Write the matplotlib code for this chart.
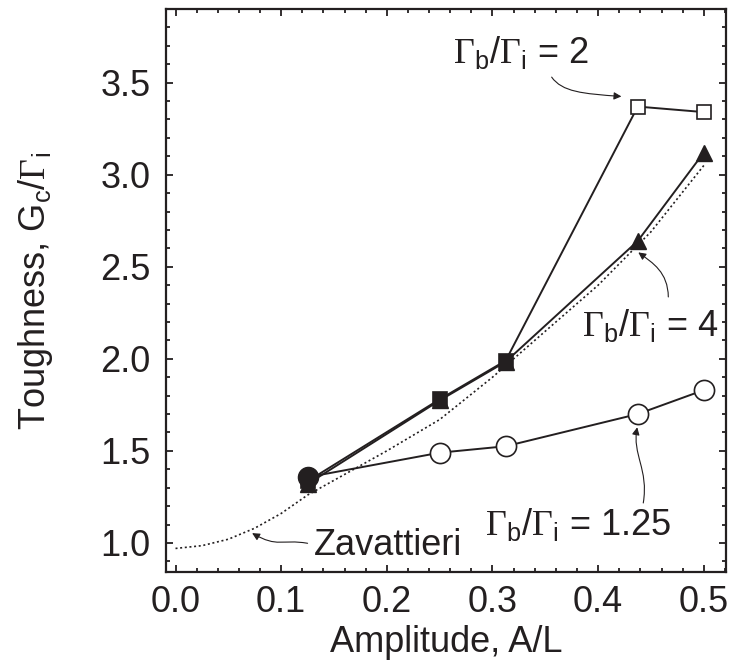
import numpy as np
import matplotlib
matplotlib.use("Agg")
import matplotlib.pyplot as plt
from matplotlib.patches import FancyArrowPatch
from matplotlib.path import Path
from matplotlib.ticker import MultipleLocator

plt.rcParams['font.family'] = ['Liberation Sans', 'DejaVu Sans']
plt.rcParams['mathtext.fontset'] = 'custom'
plt.rcParams['mathtext.rm'] = 'Liberation Serif'
plt.rcParams['mathtext.sf'] = 'Liberation Sans'
plt.rcParams['mathtext.it'] = 'Liberation Sans:italic'

ink = '#231f20'

# amplitude A/L of the simulated interfaces
amp = [0.125, 0.25, 0.3125, 0.4375, 0.5]
# toughness Gc/Gi for each strength ratio
g_125 = [1.357, 1.49, 1.525, 1.70, 1.83]
g_2 = [1.335, 1.78, 1.99, 3.37, 3.34]
g_4 = [1.32, 1.774, 1.984, 2.64, 3.12]
# which square points are filled (crack stays on interface)
sq_filled = [True, True, True, False, False]

# Zavattieri reference curve
zav_x = [0.0, 0.025, 0.05, 0.075, 0.1, 0.125, 0.15, 0.175, 0.2, 0.25, 0.3, 0.35, 0.4, 0.45, 0.5]
zav_y = [0.97, 0.985, 1.02, 1.08, 1.16, 1.26, 1.34, 1.42, 1.50, 1.67, 1.90, 2.15, 2.40, 2.69, 3.05]

fs = 26

fig = plt.figure(figsize=(7.29, 6.64), dpi=100)
ax = fig.add_axes([166/729, 92/664, 560/729, 563/664])

ax.plot(zav_x, zav_y, ls=(0, (1.2, 1.6)), lw=1.2, color=ink, zorder=1)

ax.plot(amp, g_4, '-', color=ink, lw=1.4, marker='^', ms=11, mfc=ink, mec=ink, zorder=2)

ax.plot(amp, g_2, '-', color=ink, lw=1.4, zorder=3)
for x, y, f in zip(amp, g_2, sq_filled):
    ax.plot(x, y, 's', ms=10, mfc=ink if f else 'white', mec=ink, mew=1.2, zorder=4)

ax.plot(amp, g_125, '-', color=ink, lw=1.4, zorder=5)
ax.plot(amp[1:], g_125[1:], 'o', ms=14.5, mfc='white', mec=ink, mew=1.2, zorder=6)
ax.plot(amp[0], g_125[0], 'o', ms=14.5, mfc=ink, mec=ink, zorder=6)

ax.set_xlim(-0.009, 0.521)
ax.set_ylim(0.842, 3.9)
ax.xaxis.set_major_locator(MultipleLocator(0.1))
ax.xaxis.set_minor_locator(MultipleLocator(0.02))
ax.yaxis.set_major_locator(MultipleLocator(0.5))
ax.yaxis.set_minor_locator(MultipleLocator(0.1))
ax.tick_params(which='both', direction='in', top=True, right=True, width=1.3, colors=ink)
ax.tick_params(which='major', length=5, labelsize=fs)
ax.tick_params(which='minor', length=3)
ax.tick_params(axis='x', which='major', pad=9)
ax.tick_params(axis='y', which='major', pad=11)
for s in ax.spines.values():
    s.set_linewidth(1.6)
    s.set_color(ink)

ax.set_xlabel('Amplitude, A/L', fontsize=fs, color=ink, labelpad=4)
ax.set_ylabel(r'Toughness, $\mathsf{G_c}$/$\Gamma_{\mathsf{i}}$', fontsize=fs, color=ink, labelpad=33)

lab = dict(fontsize=fs, color=ink, ha='left', va='baseline')
ax.text(0.263, 3.607, r'$\Gamma_{\mathsf{b}}$/$\Gamma_{\mathsf{i}}$ = 2', **lab)
ax.text(0.385, 2.124, r'$\Gamma_{\mathsf{b}}$/$\Gamma_{\mathsf{i}}$ = 4', **lab)
ax.text(0.293, 1.043, r'$\Gamma_{\mathsf{b}}$/$\Gamma_{\mathsf{i}}$ = 1.25', **lab)
ax.text(0.1306, 0.935, 'Zavattieri', **lab)

# curly pointer arrows
C4 = Path.CURVE4
curves = [
    [(0.356, 3.53), (0.366, 3.45), (0.385, 3.44), (0.422, 3.425)],
    [(0.4664, 2.336), (0.4660, 2.47), (0.452, 2.52), (0.438, 2.578)],
    [(0.4427, 1.217), (0.4480, 1.40), (0.432, 1.48), (0.437, 1.628)],
    [(0.125, 0.998), (0.100, 1.022), (0.097, 0.972), (0.0725, 1.053)],
]
for pts in curves:
    p = Path(pts, [Path.MOVETO, C4, C4, C4])
    ax.add_patch(FancyArrowPatch(path=p, arrowstyle='-|>', mutation_scale=11,
                                 lw=0.8, color=ink, transform=ax.transData, zorder=7))

fig.savefig('out.png', dpi=100)
